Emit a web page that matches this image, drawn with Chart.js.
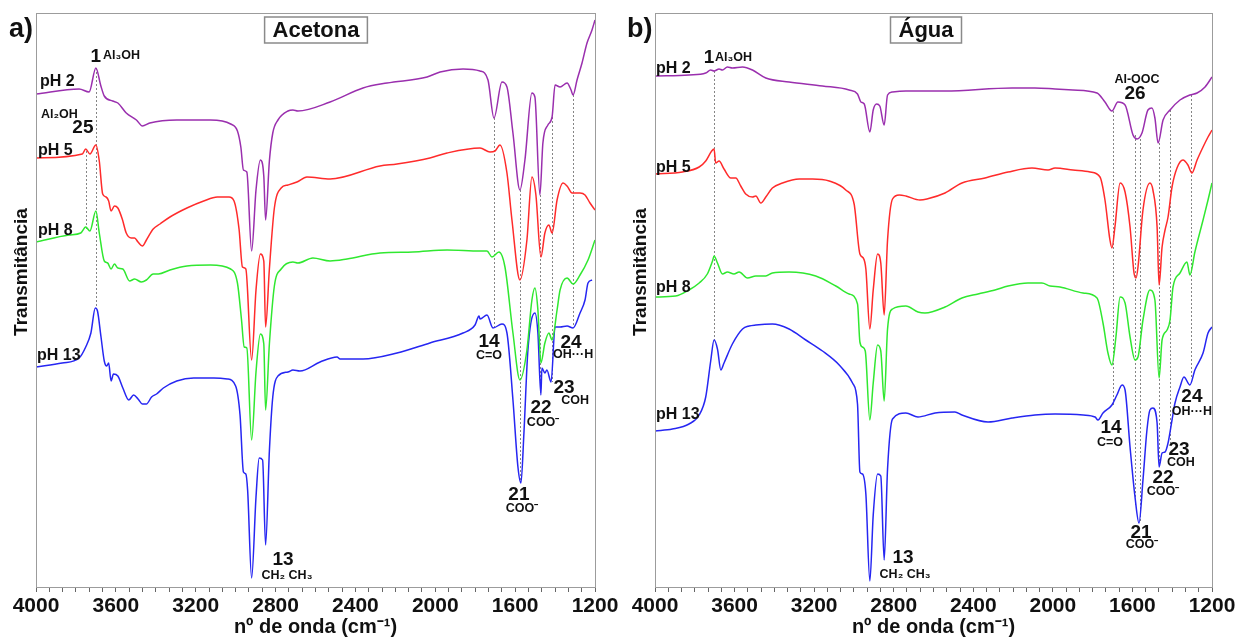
<!DOCTYPE html>
<html>
<head>
<meta charset="utf-8">
<script src="https://cdn.jsdelivr.net/npm/chart.js@4/dist/chart.umd.min.js"></script>
<style>
  html, body { margin: 0; padding: 0; background: #fff; }
  #wrap { position: relative; width: 1241px; height: 639px; }
  canvas { position: absolute; top: 0; }
</style>
</head>
<body>
<div id="wrap">
  <canvas id="ca" width="620" height="639" style="left:0"></canvas>
  <canvas id="cb" width="621" height="639" style="left:620px"></canvas>
</div>
<script>
// FTIR spectra, transmittance in arbitrary units (curves stacked by offset)
// panel a) Acetona
var wnA2 = [4000,3784,3734,3700,3675,3658,3616,3590,3548,3497,3467,3430,3295,3126,3025,2991,2974,2961,2944,2920,2898,2876,2859,2850,2831,2814,2788,2738,2713,2688,2527,2362,2242,2041,1976,1861,1776,1736,1706,1666,1641,1611,1576,1551,1516,1501,1476,1461,1436,1415,1400,1375,1340,1320,1310,1290,1265,1240,1215,1200];
var tA2 = [493,498,495,519,501,491,486,484,474,467,461,464,467,467,463,456,440,417,415,336,397,427,411,367,426,454,467,476,477,476,485,499,504,510,515,518,516,507,469,505,500,454,397,427,494,490,392,444,462,470,502,500,504,497,492,507,524,544,557,567];

var wnA5 = [4000,3768,3751,3730,3700,3683,3666,3649,3636,3624,3607,3590,3568,3548,3523,3506,3489,3467,3447,3413,3379,3329,3244,3160,3092,3033,3008,2983,2966,2949,2920,2898,2876,2859,2850,2831,2806,2772,2738,2693,2643,2527,2277,2192,2027,1941,1776,1726,1701,1676,1641,1616,1576,1541,1516,1496,1471,1451,1431,1415,1390,1360,1340,1315,1275,1250,1225,1200];
var tA5 = [429,433,438,433,442,426,393,390,386,376,381,379,368,354,349,349,345,341,347,358,363,370,379,386,390,390,386,358,320,318,227,297,333,326,260,318,379,399,402,405,410,408,421,423,429,434,439,435,436,442,414,367,307,347,410,392,330,354,362,354,387,404,401,394,394,392,384,377];

var wnA8 = [4000,3835,3776,3751,3730,3700,3683,3658,3641,3624,3607,3590,3565,3531,3506,3472,3447,3413,3387,3329,3244,3126,3025,2991,2971,2957,2944,2920,2898,2876,2859,2850,2831,2806,2772,2713,2688,2613,2527,2442,2277,2112,1941,1776,1741,1716,1681,1651,1611,1576,1541,1516,1501,1486,1471,1451,1431,1415,1390,1375,1340,1310,1275,1235,1200];
var tA8 = [345,352,354,360,356,376,354,326,324,318,323,319,318,306,308,305,307,313,313,317,321,322,318,304,268,240,239,147,215,253,243,177,243,301,318,325,324,329,326,328,334,335,337,336,336,330,335,320,254,207,237,287,299,277,224,244,254,247,277,297,309,303,312,327,347];

var wnA13 = [4000,3869,3784,3751,3725,3703,3692,3675,3658,3646,3636,3624,3612,3590,3565,3535,3511,3489,3467,3447,3421,3396,3362,3295,3210,3109,3042,3000,2978,2961,2949,2940,2920,2898,2882,2865,2850,2831,2814,2788,2738,2713,2678,2577,2492,2477,2362,2192,2027,1861,1801,1781,1776,1741,1711,1666,1641,1611,1586,1571,1556,1536,1501,1486,1471,1466,1451,1441,1420,1400,1375,1340,1310,1275,1250,1235,1215];
var tA13 = [220,224,229,240,254,279,276,251,226,221,224,206,213,211,199,187,192,188,183,183,190,193,199,206,209,209,208,201,172,115,113,97,9,90,129,127,42,136,190,211,215,217,216,225,230,228,228,234,244,254,262,271,268,272,259,263,254,187,120,104,154,237,274,254,192,219,214,217,205,260,260,261,259,274,287,304,307];

// panel b) Água
var wnB2 = [4000,3829,3745,3720,3703,3678,3661,3636,3611,3560,3510,3443,3326,3158,3024,2982,2965,2948,2920,2903,2886,2870,2848,2831,2806,2739,2542,2205,2090,1989,1899,1778,1738,1703,1673,1637,1597,1577,1552,1522,1502,1487,1471,1446,1411,1361,1311,1275,1235,1200];
var tB2 = [511,512,514,517,516,518,517,520,519,520,517,509,505,501,497,493,485,483,455,477,483,481,462,492,495,496,496,499,499,498,497,494,485,476,485,482,452,448,454,477,479,469,444,467,477,487,492,494,500,510];

var wnB5 = [4000,3862,3778,3745,3715,3703,3695,3678,3653,3619,3594,3569,3544,3510,3493,3468,3443,3410,3359,3275,3208,3124,3041,2999,2970,2953,2940,2920,2903,2881,2865,2848,2831,2806,2772,2739,2668,2633,2542,2457,2341,2225,2105,2024,1989,1899,1813,1763,1738,1713,1703,1688,1662,1637,1612,1592,1582,1572,1547,1512,1497,1476,1466,1451,1436,1421,1401,1376,1346,1321,1301,1275,1245,1220,1200];
var tB5 = [413,415,420,426,436,438,424,426,418,409,409,401,393,390,391,384,390,399,404,408,408,406,397,383,333,329,318,258,297,333,324,272,347,388,392,391,387,388,394,404,409,415,419,417,419,417,415,410,387,347,339,360,404,395,360,314,309,320,377,404,397,360,302,340,357,370,400,419,427,422,414,427,440,450,457];

var wnB8 = [4000,3896,3829,3778,3737,3711,3703,3686,3661,3636,3603,3577,3535,3493,3443,3410,3326,3192,3091,3024,2982,2970,2957,2943,2920,2903,2881,2865,2848,2831,2806,2739,2678,2643,2542,2457,2376,2291,2225,2125,2055,2014,1964,1848,1778,1748,1723,1703,1683,1662,1637,1612,1587,1572,1547,1512,1487,1466,1451,1426,1411,1396,1361,1326,1311,1286,1245,1220,1200];
var tB8 = [290,291,297,304,313,326,331,324,313,315,313,315,309,311,311,314,315,311,301,293,283,245,240,236,167,204,242,236,186,258,278,281,275,274,280,289,293,297,301,304,304,301,300,294,289,264,234,222,250,290,284,250,227,230,267,297,287,209,247,257,267,300,314,325,312,335,367,387,404];

var wnB13 = [4000,3913,3829,3778,3745,3720,3703,3686,3669,3653,3611,3560,3527,3493,3410,3326,3242,3158,3074,3007,2982,2970,2957,2940,2920,2903,2881,2865,2848,2831,2806,2739,2678,2592,2492,2457,2326,2205,2090,1989,1848,1788,1773,1748,1703,1678,1652,1637,1612,1587,1567,1547,1527,1512,1497,1476,1466,1451,1436,1421,1401,1386,1361,1341,1311,1286,1245,1220,1200];
var tB13 = [156,158,163,172,190,226,247,238,217,224,243,258,261,262,263,258,247,236,222,204,183,115,113,93,6,72,113,111,27,118,168,174,170,174,175,172,165,169,172,173,172,170,167,174,182,192,202,197,140,90,64,107,157,177,179,164,120,134,135,144,167,184,200,210,202,217,234,254,260];

var phLabels = ['pH 2', 'pH 5', 'pH 8', 'pH 13'];
var colors = ['#9a2fae', '#ff2b2b', '#30e830', '#2626f2'];

// band markers: [wavenumber, top, bottom]
var dropsA = [[3750,436,358],[3700,519,279],[1706,469,259],[1576,397,104],[1476,392,192],[1415,470,205],[1310,492,259]];
var dropsB = [[3703,516,247],[1698,476,182],[1587,452,80],[1562,452,64],[1467,444,120],[1411,477,144],[1306,492,210]];

// labels: [text, wavenumber, value, kind, align]
var notesA = [
  ['pH 2',3980,501,'ph','left'],['pH 5',3990,432,'ph','left'],['pH 8',3990,352,'ph','left'],['pH 13',3995,227,'ph','left'],
  ['Al₂OH',3975,469,'small','left'],['25',3765,454,'num','center'],
  ['1',3700,525,'num','center'],['Al₃OH',3664,528,'small','left'],
  ['14',1731,240,'num','center'],['C=O',1731,228,'small','center'],
  ['24',1320,239,'num','center'],['OH···H',1310,229,'small','center'],
  ['23',1355,194,'num','center'],['COH',1300,183,'small','center'],
  ['22',1470,174,'num','center'],['COO⁻',1460,161,'small','center'],
  ['21',1581,87,'num','center'],['COO⁻',1566,75,'small','center'],
  ['13',2763,22,'num','center'],['CH₂ CH₃',2743,8,'small','center']
];
var notesB = [
  ['pH 2',3995,514,'ph','left'],['pH 5',3995,415,'ph','left'],['pH 8',3995,295,'ph','left'],['pH 13',3995,168,'ph','left'],
  ['1',3729,524,'num','center'],['Al₃OH',3698,526,'small','left'],
  ['Al-OOC',1577,504,'small','center'],['26',1587,488,'num','center'],
  ['14',1708,154,'num','center'],['C=O',1713,141,'small','center'],
  ['24',1301,185,'num','center'],['OH···H',1301,172,'small','center'],
  ['23',1366,132,'num','center'],['COH',1356,121,'small','center'],
  ['22',1446,104,'num','center'],['COO⁻',1446,92,'small','center'],
  ['21',1557,49,'num','center'],['COO⁻',1552,39,'small','center'],
  ['13',2753,24,'num','center'],['CH₂ CH₃',2743,9,'small','center']
];

var FONT = "'Liberation Sans', Arial, Helvetica, sans-serif";
Chart.defaults.font.family = FONT;
var fonts = { ph: 'bold 16px ' + FONT, num: 'bold 19px ' + FONT, small: 'bold 12.5px ' + FONT };

function pts(wn, t) {
  return wn.map(function (w, i) { return { x: w, y: t[i] }; });
}

function panelPlugin(p) {
  return {
    id: 'panel' + p.letter,
    beforeDatasetsDraw: function (chart) {
      var ctx = chart.ctx, xs = chart.scales.x, ys = chart.scales.y;
      ctx.save();
      ctx.strokeStyle = '#666';
      ctx.lineWidth = 0.8;
      ctx.setLineDash([2, 2]);
      p.drops.forEach(function (d) {
        var x = Math.round(xs.getPixelForValue(d[0])) + 0.5;
        ctx.beginPath();
        ctx.moveTo(x, ys.getPixelForValue(d[1]));
        ctx.lineTo(x, ys.getPixelForValue(d[2]));
        ctx.stroke();
      });
      ctx.restore();
    },
    afterDraw: function (chart) {
      var ctx = chart.ctx, a = chart.chartArea, xs = chart.scales.x, ys = chart.scales.y;
      ctx.save();
      // frame
      ctx.strokeStyle = '#9c9c9c';
      ctx.lineWidth = 1;
      ctx.strokeRect(a.left + 0.5, a.top + 0.5, a.right - a.left, a.bottom - a.top);
      ctx.fillStyle = '#111';
      // labels on the spectra
      p.notes.forEach(function (n) {
        ctx.font = fonts[n[3]];
        ctx.textAlign = n[4];
        ctx.textBaseline = 'alphabetic';
        ctx.fillText(n[0], xs.getPixelForValue(n[1]), ys.getPixelForValue(n[2]));
      });
      // panel letter
      ctx.font = 'bold 27px ' + FONT;
      ctx.textAlign = 'left';
      ctx.fillText(p.letter + ')', p.letterX, 37);
      // boxed title
      ctx.font = 'bold 22px ' + FONT;
      var w = ctx.measureText(p.title).width;
      ctx.strokeStyle = '#8a8a8a';
      ctx.lineWidth = 1.5;
      ctx.strokeRect(p.boxX - w / 2 - 8, 17, w + 16, 26);
      ctx.textAlign = 'center';
      ctx.textBaseline = 'middle';
      ctx.fillText(p.title, p.boxX, 31);
      // y title
      ctx.translate(p.yTitleX, 272);
      ctx.rotate(-Math.PI / 2);
      ctx.font = 'bold 19px ' + FONT;
      ctx.fillText('Transmitância', 0, 0);
      ctx.restore();
    }
  };
}

function makeChart(id, series, pad, p) {
  var datasets = series.map(function (s, i) {
    return {
      label: phLabels[i],
      data: pts(s[0], s[1]),
      borderColor: colors[i],
      borderWidth: 1.5,
      pointRadius: 0,
      cubicInterpolationMode: 'monotone',
      fill: false
    };
  });
  return new Chart(document.getElementById(id).getContext('2d'), {
    type: 'line',
    data: { datasets: datasets },
    options: {
      responsive: false,
      animation: false,
      layout: { padding: pad },
      plugins: { legend: { display: false }, tooltip: { enabled: false } },
      scales: {
        x: {
          type: 'linear',
          reverse: true,
          min: 1200,
          max: 4000,
          afterBuildTicks: function (scale) {
            var t = [];
            for (var i = 0; i <= 42; i++) t.push({ value: 1200 + i * 400 / 6 });
            scale.ticks = t;
          },
          afterFit: function (scale) { scale.height = 52; },
          ticks: {
            autoSkip: false,
            maxRotation: 0,
            padding: 2,
            color: '#111',
            font: { size: 21, weight: 'bold' },
            callback: function (v, i) { return i % 6 === 0 ? String(Math.round(v)) : ''; }
          },
          grid: { drawOnChartArea: false, drawTicks: true, tickLength: 5, color: '#666' },
          border: { display: true, color: '#888' },
          title: {
            display: true,
            text: 'nº de onda (cm⁻¹)',
            color: '#111',
            font: { size: 20, weight: 'bold' },
            padding: { top: 0, bottom: 0 }
          }
        },
        y: { display: false, min: 0, max: 574 }
      }
    },
    plugins: [panelPlugin(p)]
  });
}

makeChart('ca', [[wnA2, tA2], [wnA5, tA5], [wnA8, tA8], [wnA13, tA13]],
  { left: 36, right: 25, top: 13, bottom: 0 },
  { letter: 'a', letterX: 9, title: 'Acetona', boxX: 316, yTitleX: 22, drops: dropsA, notes: notesA });

makeChart('cb', [[wnB2, tB2], [wnB5, tB5], [wnB8, tB8], [wnB13, tB13]],
  { left: 35, right: 29, top: 13, bottom: 0 },
  { letter: 'b', letterX: 7, title: 'Água', boxX: 306, yTitleX: 21, drops: dropsB, notes: notesB });
</script>
</body>
</html>
